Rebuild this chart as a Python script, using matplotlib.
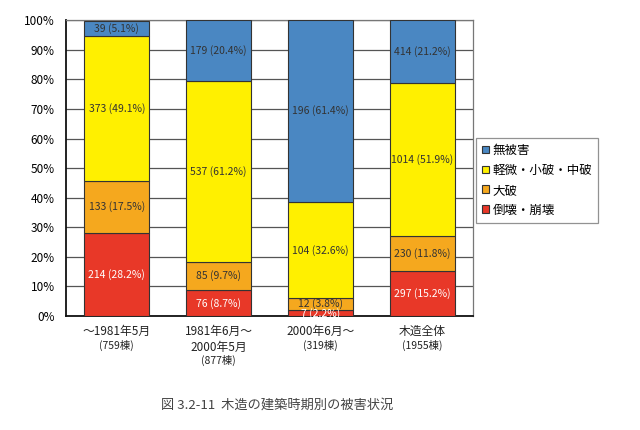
import matplotlib
matplotlib.use("Agg")
import matplotlib.pyplot as plt
from matplotlib.patches import Patch
import numpy as np

plt.rcParams['font.family'] = ['Noto Sans CJK JP', 'DejaVu Sans']

categories = ["～1981年5月", "1981年6月～\n2000年5月", "2000年6月～", "木造全体"]
counts = ["(759棟)", "(877棟)", "(319棟)", "(1955棟)"]
series_names = ["倒壊・崩壊", "大破", "軽微・小破・中破", "無被害"]
colors = ["#E83828", "#F5A81E", "#FFF000", "#4A87C2"]
text_colors = ["white", "#333333", "#333333", "#333333"]

collapse_n = [214, 76, 7, 297]
collapse_p = [28.2, 8.7, 2.2, 15.2]
severe_n = [133, 85, 12, 230]
severe_p = [17.5, 9.7, 3.8, 11.8]
minor_n = [373, 537, 104, 1014]
minor_p = [49.1, 61.2, 32.6, 51.9]
none_n = [39, 179, 196, 414]
none_p = [5.1, 20.4, 61.4, 21.2]

ns = [collapse_n, severe_n, minor_n, none_n]
ps = [collapse_p, severe_p, minor_p, none_p]

fig = plt.figure(figsize=(6.4, 4.3), dpi=100)
ax = fig.add_axes([0.103, 0.265, 0.636, 0.688])

x = np.arange(len(categories))
bottom = np.zeros(len(categories))
for k in range(4):
    vals = np.array(ps[k])
    ax.bar(x, vals, width=0.64, bottom=bottom, color=colors[k],
           edgecolor="#333333", linewidth=0.8, zorder=3)
    for i in range(len(categories)):
        yc = bottom[i] + vals[i] / 2
        if k == 0 and vals[i] < 3:
            yc = bottom[i] + vals[i] / 2 - 0.3
        ax.text(x[i], yc, f"{ns[k][i]} ({ps[k][i]:.1f}%)", ha="center", va="center",
                fontsize=7.5, color=text_colors[k], zorder=4)
    bottom += vals

ax.set_xlim(-0.5, 3.5)
ax.set_ylim(0, 100)
ax.set_yticks(np.arange(0, 101, 10))
ax.set_yticklabels([f"{v}%" for v in range(0, 101, 10)], fontsize=8.5)
ax.set_xticks([])
ax.tick_params(axis='y', length=0, pad=8)
ax.yaxis.grid(True, color="#555555", linewidth=0.9, zorder=0)
ax.set_axisbelow(True)
for s in ["top", "right"]:
    ax.spines[s].set_color("#777777")
    ax.spines[s].set_linewidth(0.9)
for s in ["left", "bottom"]:
    ax.spines[s].set_color("#111111")
    ax.spines[s].set_linewidth(1.3)

for i in range(len(categories)):
    nlines = categories[i].count("\n") + 1
    ax.annotate(categories[i], xy=(x[i], 0), xycoords=('data', 'axes fraction'),
                xytext=(0, -9), textcoords='offset pixels', ha='center', va='top',
                fontsize=8.5, linespacing=1.25, color="#222222")
    ax.annotate(counts[i], xy=(x[i], 0), xycoords=('data', 'axes fraction'),
                xytext=(0, -9 - 15 * nlines), textcoords='offset pixels', ha='center', va='top',
                fontsize=7.5, color="#222222")

handles = [Patch(facecolor=colors[k], edgecolor="#333333", linewidth=0.8, label=series_names[k])
           for k in [3, 2, 1, 0]]
leg = fig.legend(handles=handles, loc="upper left", bbox_to_anchor=(0.743, 0.68),
                 fontsize=9, frameon=True, fancybox=False, edgecolor="#777777",
                 handlelength=0.55, handleheight=0.55, handletextpad=0.3,
                 labelspacing=0.55, borderpad=0.5, borderaxespad=0)
leg.get_frame().set_linewidth(0.9)

fig.text(0.433, 0.058, "図 3.2-11  木造の建築時期別の被害状況", ha="center", va="center",
         fontsize=9.5, color="#444444")

fig.savefig("out.png", dpi=100)
